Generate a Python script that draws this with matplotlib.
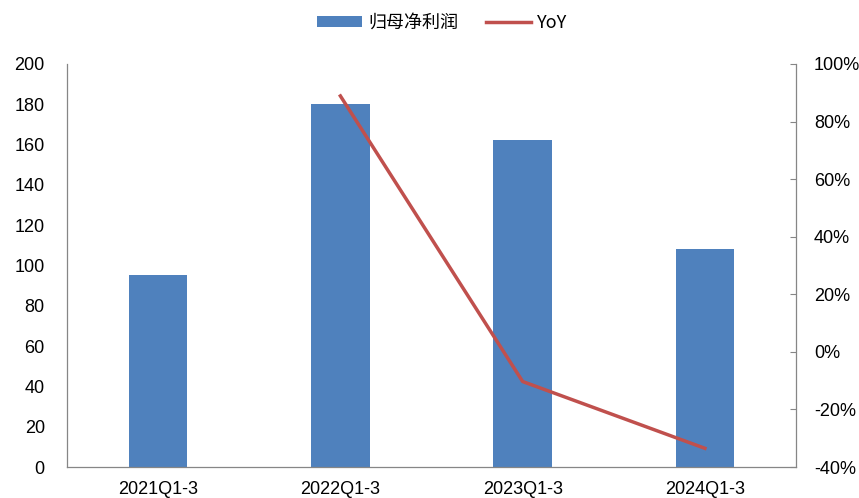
import matplotlib
matplotlib.use("Agg")
import matplotlib.pyplot as plt
from matplotlib.ticker import FuncFormatter

plt.rcParams['font.family'] = ['Liberation Sans', 'Noto Sans CJK SC', 'DejaVu Sans']

categories = ["2021Q1-3", "2022Q1-3", "2023Q1-3", "2024Q1-3"]
profit = [95.3, 180.0, 162.2, 108.2]
yoy_cats = ["2022Q1-3", "2023Q1-3", "2024Q1-3"]
yoy = [88.9, -10.3, -33.5]

bar_color = "#4F81BD"
line_color = "#C0504D"
axis_color = "#868686"

fig = plt.figure(figsize=(8.59, 4.98), dpi=100)
ax = fig.add_axes([0.078, 0.0622, 0.8487, 0.8093])
x = list(range(len(categories)))
bars = ax.bar(x, profit, width=0.32, color=bar_color, label="归母净利润", zorder=2)
ax.set_xlim(-0.5, len(categories) - 0.5)
ax.set_ylim(0, 200)
ax.set_yticks(range(0, 201, 20))
ax.set_xticks(x)
ax.set_xticklabels(categories)
ax.tick_params(axis='both', length=0, labelsize=13, colors='black')
ax.tick_params(axis='x', pad=10)
ax.tick_params(axis='y', pad=16)
for s in ['top', 'right']:
    ax.spines[s].set_visible(False)
for s in ['left', 'bottom']:
    ax.spines[s].set_color(axis_color)
    ax.spines[s].set_linewidth(0.9)

ax2 = ax.twinx()
xi = [categories.index(c) for c in yoy_cats]
ln, = ax2.plot(xi, yoy, color=line_color, linewidth=2.5, label="YoY", zorder=3)
ax2.set_ylim(-40, 100)
ax2.set_yticks(range(-40, 101, 20))
ax2.yaxis.set_major_formatter(FuncFormatter(lambda v, p: f"{int(v)}%"))
ax2.tick_params(axis='y', direction='in', length=4, color=axis_color, labelsize=13, pad=13)
for s in ['top', 'left', 'bottom']:
    ax2.spines[s].set_visible(False)
ax2.spines['right'].set_color(axis_color)
ax2.spines['right'].set_linewidth(0.9)

leg = fig.legend(handles=[bars, ln], labels=["归母净利润", "YoY"], loc='upper center',
                 bbox_to_anchor=(0.515, 1.005), ncol=2, frameon=False,
                 handlelength=2.5, handleheight=0.55, handletextpad=0.35, columnspacing=1.5,
                 prop={'family': ['Noto Sans CJK SC', 'DejaVu Sans'], 'size': 13})

fig.savefig("out.png", dpi=100)
